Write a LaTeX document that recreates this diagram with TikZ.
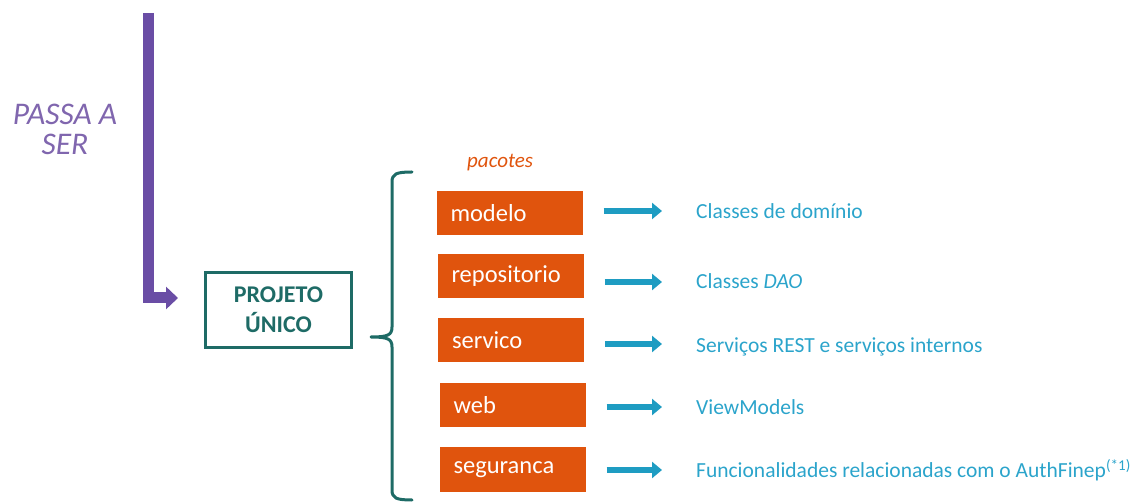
\documentclass[tikz,border=0pt]{standalone}
\usepackage{fontspec}
\setmainfont{Carlito}
\usetikzlibrary{arrows.meta}
\definecolor{roxo}{HTML}{6A4DA5}
\definecolor{roxotxt}{HTML}{8066AE}
\definecolor{petroleo}{HTML}{1E6B66}
\definecolor{laranja}{HTML}{E0540D}
\definecolor{azul}{HTML}{1E9CC2}
\definecolor{azultxt}{HTML}{2BA4CB}
\tikzset{
  pkg/.style={fill=laranja, draw=none, minimum width=146pt, minimum height=44pt,
    text width=118pt, inner xsep=14pt, align=left, text=white,
    font=\fontsize{24.5}{27}\selectfont},
  desc/.style={anchor=base west, inner sep=0pt, text=azultxt,
    font=\fontsize{21.5}{24}\selectfont},
  seta/.style={draw=azul, line width=5.5pt,
    -{Triangle[length=10pt,width=16pt]}},
  chave/.style={draw=petroleo, line width=3pt, line cap=round, line join=round},
}
\begin{document}
\begin{tikzpicture}[x=1pt,y=-1pt]
\useasboundingbox (0,0) rectangle (1141,502);

% left label
\node[align=center, anchor=base, text=roxotxt, inner sep=0pt,
  font=\fontsize{31.5}{30}\selectfont\itshape] (passa) at (65,155) {PASSA A\\SER};

% purple elbow arrow
\coordinate (ptop) at (148,13);
\coordinate (pend) at (178,298);
\draw[draw=roxo, line width=11pt, -{Triangle[length=12pt,width=22pt]}]
  (ptop) |- (pend);

% single project box
\node[draw=petroleo, line width=3pt, minimum width=146pt, minimum height=75pt,
  align=center, text=petroleo, font=\fontsize{24}{30}\selectfont\bfseries]
  (proj) at (278.5,310) {PROJETO\\ÚNICO};

% curly brace
\draw[chave] (412,172) .. controls (396,172) and (392,174) .. (392,182)
  -- (392,327) .. controls (392,335) and (388,337) .. (371,337)
  .. controls (388,337) and (392,339) .. (392,347)
  -- (392,490) .. controls (392,498) and (396,500) .. (412,500);

\node[anchor=base west, inner sep=0pt, text=laranja,
  font=\fontsize{21}{24}\selectfont\itshape] (pac) at (467,168) {pacotes};

% packages
\node[pkg] (modelo) at (509.5,213) {modelo};
\node[pkg] (repo)   at (510.5,276) {repositorio};
\node[pkg] (serv)   at (511,340.5) {servico};
\node[pkg] (web)    at (512.5,405) {web};
\node[pkg] (seg)    at (512.5,469.5) {seguranca};

% descriptions
\node[desc] (dmodelo) at (696,219) {Classes de domínio};
\node[desc] (drepo)   at (696,289) {Classes \textit{DAO}};
\node[desc] (dserv)   at (696,353) {Serviços REST e serviços internos};
\node[desc] (dweb)    at (696,415) {ViewModels};
\node[desc] (dseg)    at (696,478) {Funcionalidades relacionadas com o AuthFinep\textsuperscript{(*1)}};

% arrows between packages and descriptions
\foreach \p/\d/\y in {modelo/dmodelo/211, repo/drepo/282, serv/dserv/344, web/dweb/407, seg/dseg/470} {
  \draw[seta] (\p.east |- 0,\y) ++(21,0) -- ([xshift=-34pt]\d.west |- 0,\y);
}
\end{tikzpicture}
\end{document}
